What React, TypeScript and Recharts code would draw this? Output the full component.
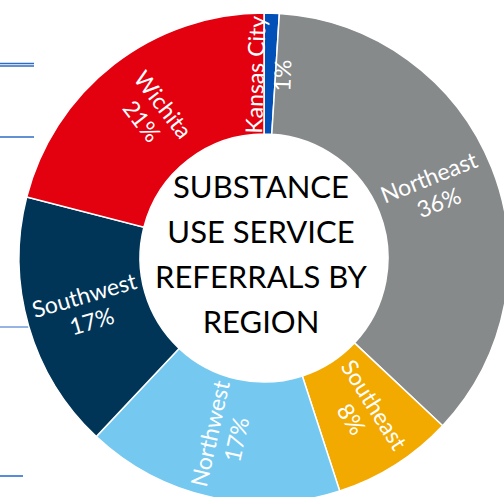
import { PieChart, Pie, Cell } from "recharts";

const regions = ["Kansas City", "Northeast", "Southeast", "Northwest", "Southwest", "Wichita"];
const shares = [1, 36, 8, 17, 17, 21];
const colors = ["#0050B8", "#878A8B", "#F2A900", "#75C9F0", "#003558", "#E3000F"];
const titleLines = ["SUBSTANCE", "USE SERVICE", "REFERRALS BY", "REGION"];

const data = regions.map((name, i) => ({ name, value: shares[i] }));

const RAD = Math.PI / 180;
const FONT = "Lato, 'Open Sans', sans-serif";

function SliceLabel(props: any) {
  const { cx, cy, midAngle, payload } = props;
  const r = 183;
  const x = cx + r * Math.cos(-midAngle * RAD);
  const y = cy + r * Math.sin(-midAngle * RAD);
  // keep text upright: radial orientation folded into (-90, 90]
  let rot = -midAngle;
  while (rot > 90) rot -= 180;
  while (rot <= -90) rot += 180;
  return (
    <g transform={`translate(${x},${y}) rotate(${rot})`}>
      <text textAnchor="middle" fill="#fff" fontSize={23} fontFamily={FONT}>
        <tspan x={0} y={-6}>{payload.name}</tspan>
        <tspan x={0} y={21}>{`${payload.value}%`}</tspan>
      </text>
    </g>
  );
}

export default function App() {
  return (
    <div style={{ position: "absolute", left: 0, top: 0, width: 504, height: 497, background: "#fff" }}>
      <svg width={504} height={497} style={{ position: "absolute", left: 0, top: 0 }}>
        <line x1={0} y1={63.5} x2={34} y2={63.5} stroke="#2F6BC4" strokeWidth={1.3} />
        <line x1={0} y1={66} x2={34} y2={66} stroke="#2F6BC4" strokeWidth={1.3} />
        <line x1={0} y1={137} x2={34} y2={137} stroke="#2F6BC4" strokeWidth={1.5} />
        <line x1={0} y1={327} x2={30} y2={327} stroke="#2F6BC4" strokeWidth={1} />
        <line x1={0} y1={476} x2={23} y2={476} stroke="#1F66D0" strokeWidth={1.5} />
      </svg>
      <div style={{ position: "absolute", left: 0, top: 0 }}>
        <PieChart width={504} height={497}>
          <Pie
            data={data}
            dataKey="value"
            nameKey="name"
            cx={259}
            cy={253}
            innerRadius={124}
            outerRadius={245}
            startAngle={90}
            endAngle={-270}
            stroke="#fff"
            strokeWidth={1.5}
            label={SliceLabel}
            labelLine={false}
            isAnimationActive={false}
          >
            {data.map((d, i) => (
              <Cell key={d.name} fill={colors[i]} />
            ))}
          </Pie>
        </PieChart>
      </div>
      <div
        style={{
          position: "absolute",
          left: 111,
          width: 300,
          top: 164,
          textAlign: "center",
          fontFamily: FONT,
          fontSize: 31,
          lineHeight: "45px",
          color: "#000",
          textShadow: "0 0 4px #fff, 0 0 4px #fff",
        }}
      >
        {titleLines.map((t) => (
          <div key={t}>{t}</div>
        ))}
      </div>
    </div>
  );
}
